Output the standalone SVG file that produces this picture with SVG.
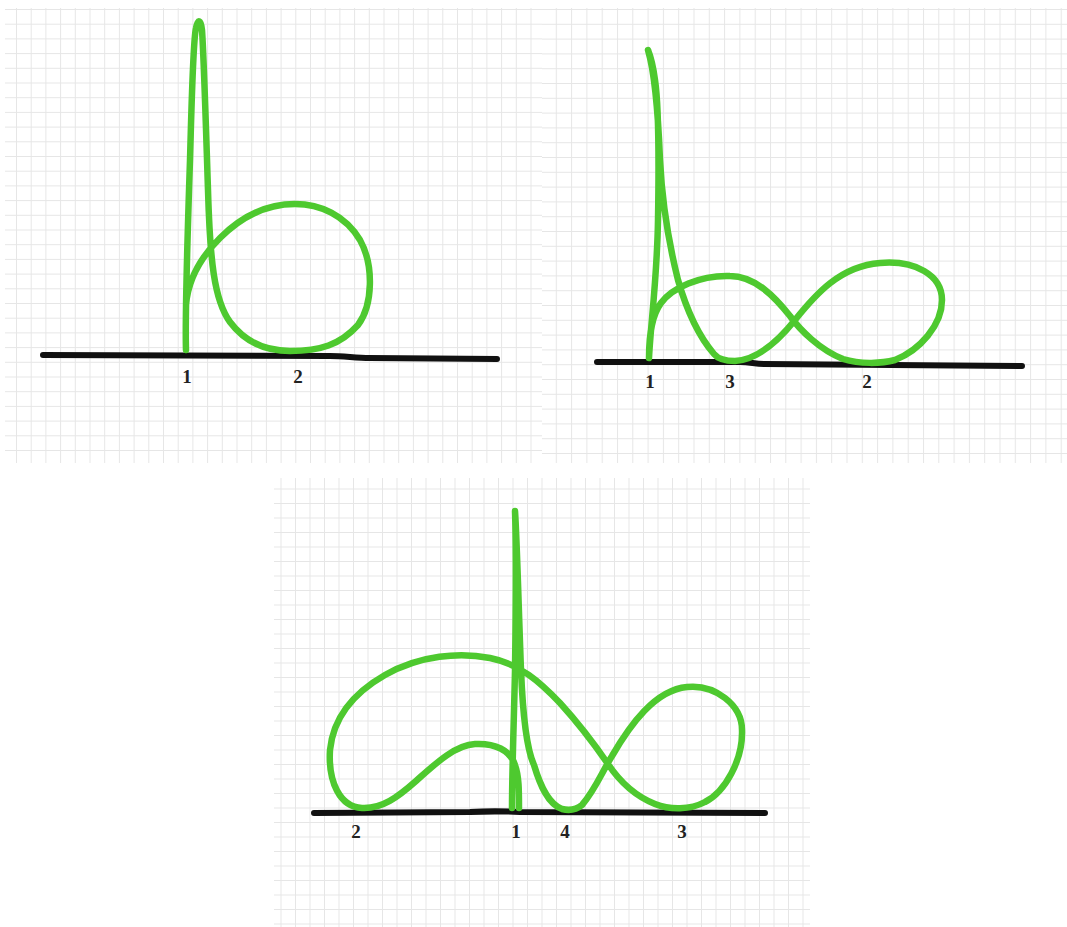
<svg xmlns="http://www.w3.org/2000/svg" width="1067" height="927" viewBox="0 0 1067 927">
<defs>
<pattern id="g1" patternUnits="userSpaceOnUse" x="1.3" y="9" width="14.7" height="14.7"><path d="M0.5 0V14.7M0 0.5H14.7" stroke="#e6e6e6" stroke-width="1" fill="none"/></pattern>
<pattern id="g2" patternUnits="userSpaceOnUse" x="5" y="9" width="15.3" height="14.8"><path d="M0.5 0V14.8M0 0.5H15.3" stroke="#e6e6e6" stroke-width="1" fill="none"/></pattern>
<pattern id="g3" patternUnits="userSpaceOnUse" x="5" y="10" width="14.5" height="14.5"><path d="M0.5 0V14.5M0 0.5H14.5" stroke="#e6e6e6" stroke-width="1" fill="none"/></pattern>
</defs>
<style>
.curve{fill:none;stroke:#4ec92f;stroke-width:6.5;stroke-linecap:round;stroke-linejoin:round}
.base{fill:none;stroke:#111;stroke-width:6;stroke-linecap:round;stroke-linejoin:round}
.lbl{font-family:"Liberation Serif",serif;font-weight:bold;font-size:19px;fill:#222;text-anchor:middle}
</style>
<rect width="1067" height="927" fill="#fff"/>
<g id="panel1">
<rect x="5" y="8" width="537" height="455" fill="url(#g1)"/>
<path class="base" d="M43,355 L330,356 C345,356 355,358 370,358 L497,359"/>
<path class="curve" d="M186,350 C185,320 187,250 190,160 C192,90 193,40 196,28 C198,18 201,20 202,30 C204,60 206,130 208,190 C210,260 214,300 230,322 C245,342 265,351 290,351 C320,351 340,345 358,325 C373,305 374,265 360,240 C345,215 320,204 295,204 C265,204 240,218 220,238 C200,258 188,280 186,305"/>
<text class="lbl" x="187" y="383">1</text>
<text class="lbl" x="298" y="383">2</text>
</g>
<g id="panel2">
<rect x="542" y="8" width="525" height="455" fill="url(#g2)"/>
<path class="base" d="M597,362 L740,362 C750,362 755,364 765,364 L1022,366"/>
<path class="curve" d="M649,358 C651,320 657,280 658,220 C659,160 658,100 655,80 C653,65 650,55 648,50 C654,70 658,110 660,160 C662,200 668,240 678,280 C688,315 702,340 714,354 C718,359 724,361 735,361 C755,360 775,345 795,320 C815,295 840,266 880,263 C915,260 942,275 942,300 C942,325 920,350 895,360 C880,364 860,364 843,359 C820,350 800,330 790,316 C775,297 755,276 730,276 C700,275 672,288 661,303 C652,315 649,335 649,358"/>
<text class="lbl" x="650" y="388">1</text>
<text class="lbl" x="730" y="388">3</text>
<text class="lbl" x="867" y="388">2</text>
</g>
<g id="panel3">
<rect x="274" y="478" width="536" height="449" fill="url(#g3)"/>
<path class="base" d="M314,813 L470,812 C490,811 500,811 520,812 L765,813"/>
<path class="curve" d="M512,808 C512,770 514,720 515,670 C516,600 516,540 515,511 C517,540 519,620 521,670 C523,720 527,750 534,765 C540,785 548,804 562,809 C570,811 576,810 582,805 C595,790 602,772 612,756 C630,725 655,690 687,687 C715,684 742,705 742,730 C743,760 725,792 705,802 C690,810 670,810 655,804 C635,796 620,782 608,764 C595,745 580,725 560,703 C540,682 520,664 490,658 C460,652 420,655 385,675 C350,695 333,720 330,750 C328,782 340,807 362,808 C382,809 398,797 416,781 C435,764 455,745 475,744 C495,743 510,750 515,765 C519,776 519,790 519,808"/>
<text class="lbl" x="356" y="838">2</text>
<text class="lbl" x="516" y="838">1</text>
<text class="lbl" x="565" y="838">4</text>
<text class="lbl" x="682" y="838">3</text>
</g>
</svg>
